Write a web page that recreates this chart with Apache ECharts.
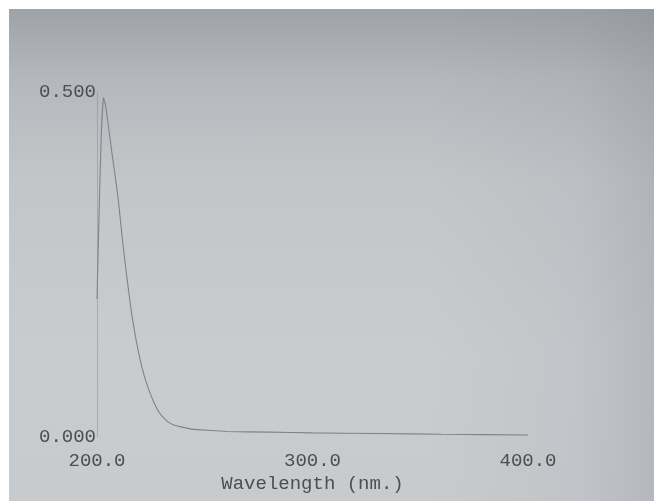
<!DOCTYPE html>
<html>
<head>
<meta charset="utf-8">
<script src="https://cdn.jsdelivr.net/npm/echarts@6/dist/echarts.min.js"></script>
<style>
  html, body { margin: 0; padding: 0; background: #fff; }
  .paper {
    position: absolute; left: 9px; top: 9px; width: 645px; height: 492px;
    background:
      linear-gradient(to left, rgba(110,114,124,0.22), rgba(110,114,124,0.08) 12%, rgba(110,114,124,0) 35%),
      linear-gradient(to bottom, #9fa3a9 0%, #b4b8bc 14%, #c3c6c9 35%, #c9cccf 70%, #c8cbce 100%);
  }
  #chart { position: absolute; left: 0; top: 0; width: 654px; height: 501px; }
</style>
</head>
<body>
<div class="paper"></div>
<div id="chart"></div>
<script>
// 波长 (nm)
var wavelength = [200, 201, 202, 203, 204, 205, 206, 207, 208, 209, 210, 212, 214, 216, 218, 220,
  222, 224, 226, 228, 230, 233, 236, 240, 245, 250, 260, 280, 300, 330, 360, 400]
// 吸光度
var absorbance = [0.20, 0.33, 0.44, 0.492, 0.48, 0.458, 0.434, 0.41, 0.388, 0.365, 0.34, 0.28, 0.228, 0.18, 0.143, 0.112,
  0.088, 0.069, 0.053, 0.040, 0.031, 0.022, 0.017, 0.014, 0.011, 0.010, 0.008, 0.007, 0.006, 0.005, 0.004, 0.003]
var xTicks = [200, 300, 400]
var yTicks = [0, 0.5]

var chart = echarts.init(document.getElementById('chart'))
var font = 'Liberation Mono'
chart.setOption({
  animation: false,
  backgroundColor: 'transparent',
  grid: { left: 97, right: 126, top: 92, bottom: 64 },
  xAxis: {
    type: 'value',
    min: xTicks[0],
    max: xTicks[xTicks.length - 1],
    interval: 100,
    name: 'Wavelength (nm.)',
    nameLocation: 'middle',
    nameGap: 35,
    nameTextStyle: { color: '#4c4e52', fontFamily: font, fontSize: 19 },
    axisLine: { show: false },
    axisTick: { show: false },
    splitLine: { show: false },
    axisLabel: {
      color: '#4c4e52', fontFamily: font, fontSize: 19, margin: 14,
      formatter: function (v) { return v.toFixed(1) }
    }
  },
  yAxis: {
    type: 'value',
    min: yTicks[0],
    max: yTicks[1],
    interval: 0.5,
    axisLine: { show: true, lineStyle: { color: 'rgba(110,112,118,0.35)', width: 1 } },
    axisTick: { show: false },
    splitLine: { show: false },
    axisLabel: {
      color: '#4c4e52', fontFamily: font, fontSize: 19, margin: 1,
      formatter: function (v) { return v.toFixed(3) }
    }
  },
  series: [{
    type: 'line',
    data: wavelength.map(function (w, i) { return [w, absorbance[i]] }),
    showSymbol: false,
    smooth: 0.1,
    lineStyle: { color: '#808287', width: 1.1 }
  }]
})
</script>
</body>
</html>
